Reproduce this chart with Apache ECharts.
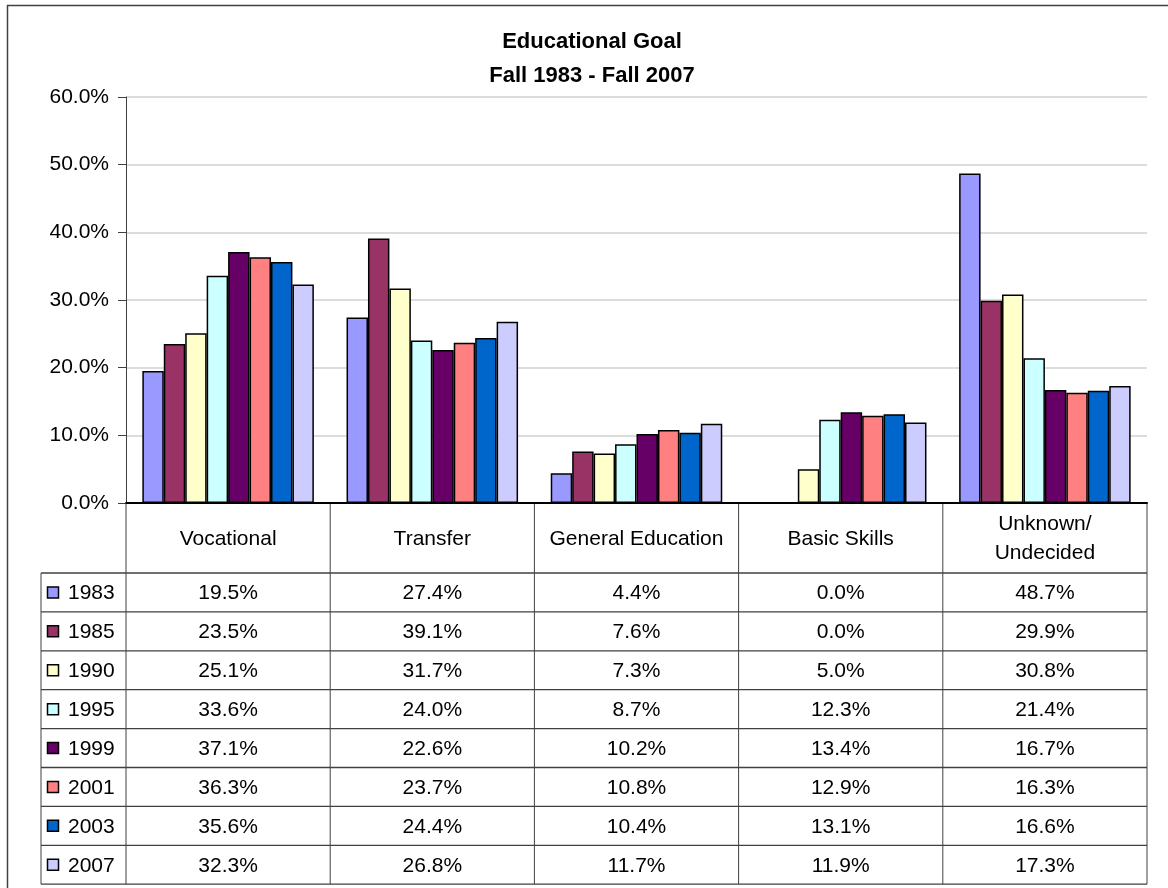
<!DOCTYPE html>
<html>
<head>
<meta charset="utf-8">
<script src="https://cdn.jsdelivr.net/npm/echarts@6/dist/echarts.min.js"></script>
<style>
html,body{margin:0;padding:0;background:#fff;}
#c{width:1168px;height:888px;}
</style>
</head>
<body>
<div id="c"></div>
<script>
const categories = ['Vocational', 'Transfer', 'General Education', 'Basic Skills', 'Unknown/\nUndecided'];
const years = ['1983', '1985', '1990', '1995', '1999', '2001', '2003', '2007'];
const v1983 = [19.5, 27.4, 4.4, 0.0, 48.7];
const v1985 = [23.5, 39.1, 7.6, 0.0, 29.9];
const v1990 = [25.1, 31.7, 7.3, 5.0, 30.8];
const v1995 = [33.6, 24.0, 8.7, 12.3, 21.4];
const v1999 = [37.1, 22.6, 10.2, 13.4, 16.7];
const v2001 = [36.3, 23.7, 10.8, 12.9, 16.3];
const v2003 = [35.6, 24.4, 10.4, 13.1, 16.6];
const v2007 = [32.3, 26.8, 11.7, 11.9, 17.3];
const yTicks = [0, 10, 20, 30, 40, 50, 60];
const colors = ['#9999FF', '#993366', '#FFFFCC', '#CCFFFF', '#660066', '#FF8080', '#0066CC', '#CCCCFF'];
const seriesValues = [v1983, v1985, v1990, v1995, v1999, v2001, v2003, v2007];

const FONT = '"Liberation Sans", Arial, sans-serif';
const chart = echarts.init(document.getElementById('c'), null, {renderer: 'canvas'});

const option = {
  animation: false,
  backgroundColor: '#fff',
  title: {
    text: 'Educational Goal\nFall 1983 - Fall 2007',
    left: 592,
    top: 25,
    padding: 0,
    textAlign: 'center',
    textStyle: {fontFamily: FONT, fontSize: 22, fontWeight: 'bold', color: '#000', lineHeight: 34}
  },
  grid: {left: 126, right: 21, top: 97, bottom: 385, containLabel: false},
  xAxis: {
    type: 'category',
    data: categories,
    axisLine: {lineStyle: {color: '#000', width: 2}},
    axisTick: {show: false},
    axisLabel: {show: false},
    splitLine: {show: false}
  },
  yAxis: {
    type: 'value',
    min: yTicks[0],
    max: yTicks[yTicks.length - 1],
    interval: 10,
    axisLine: {show: true, lineStyle: {color: '#404040', width: 1}},
    axisTick: {show: true, length: 8, lineStyle: {color: '#404040'}},
    axisLabel: {
      margin: 17,
      fontFamily: FONT, fontSize: 21, color: '#000',
      formatter: v => v.toFixed(1) + '%'
    },
    splitLine: {lineStyle: {color: '#d0d0d0', width: 1.5}}
  },
  series: years.map((y, i) => ({
    name: y,
    type: 'bar',
    data: seriesValues[i],
    barGap: '0%',
    barCategoryGap: '16%',
    itemStyle: {color: colors[i], borderColor: '#000', borderWidth: 1.5}
  }))
};
chart.setOption(option);

// Build data table from the axis positions
const centers = categories.map((c, i) => chart.convertToPixel({xAxisIndex: 0}, i));
const yZero = chart.convertToPixel({yAxisIndex: 0}, 0);
const catW = centers[1] - centers[0];
const plotLeft = centers[0] - catW / 2;
const plotRight = centers[centers.length - 1] + catW / 2;
const headerBottom = yZero + 70;
const rowH = 38.9;
const legendLeft = 41;
const tableBottom = headerBottom + rowH * years.length;
const lineCol = '#404040';
const g = [];
function line(x1, y1, x2, y2, w) {
  g.push({type: 'line', silent: true, shape: {x1, y1, x2, y2}, style: {stroke: lineCol, lineWidth: w || 1}});
}
function text(t, x, y, align, opt) {
  g.push({type: 'text', silent: true, style: Object.assign({
    text: t, x, y, align: align, textAlign: align, verticalAlign: 'middle', textVerticalAlign: 'middle',
    font: '21px ' + FONT, fill: '#000', lineHeight: 29
  }, opt || {})});
}
// outer border
g.push({type: 'rect', silent: true, shape: {x: 7.5, y: 5.5, width: 1200, height: 900}, style: {fill: 'none', stroke: '#404040', lineWidth: 1.5}});
// vertical lines
line(plotLeft, yZero, plotLeft, tableBottom);
for (let i = 1; i <= categories.length; i++) {
  const x = centers[0] + catW * (i - 0.5);
  line(x, yZero, x, tableBottom);
}
line(legendLeft, headerBottom, legendLeft, tableBottom);
// horizontal lines
for (let r = 0; r <= years.length; r++) {
  const y = headerBottom + rowH * r;
  line(legendLeft, y, plotRight, y, 1.3);
}
// header text
categories.forEach((c, i) => text(c, centers[i], (yZero + headerBottom) / 2 + 1, 'center'));
// rows
years.forEach((y, r) => {
  const cy = headerBottom + rowH * (r + 0.5);
  g.push({type: 'rect', silent: true, shape: {x: 47.5, y: cy - 5.5, width: 11, height: 11},
    style: {fill: colors[r], stroke: '#000', lineWidth: 1.5}});
  text(y, 68, cy + 1, 'left');
  seriesValues[r].forEach((v, i) => text(v.toFixed(1) + '%', centers[i], cy + 1, 'center'));
});
chart.setOption({graphic: {elements: g}});
</script>
</body>
</html>
